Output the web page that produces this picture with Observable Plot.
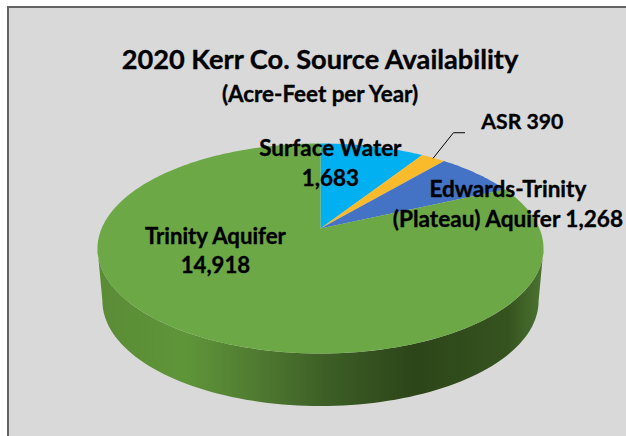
<!DOCTYPE html>
<html>
<head>
<meta charset="utf-8">
<script src="https://cdn.jsdelivr.net/npm/d3@7"></script>
<script src="https://cdn.jsdelivr.net/npm/@observablehq/plot@0.6"></script>
<style>
  html, body { margin: 0; padding: 0; background: #fff; width: 626px; height: 436px; overflow: hidden; }
  #panel { position: absolute; left: 7px; top: 6px; right: 0; bottom: 0; background: #d9d9d9;
           border-left: 2px solid #636363; border-top: 2px solid #636363; }
  #chart { position: absolute; left: 0; top: 0; }
  .t { position: absolute; left: 0; width: 640px; text-align: center; color: #000; font-family: Lato, sans-serif; font-weight: 700; white-space: nowrap; -webkit-text-stroke: 0.35px #000; }
  #title { top: 41px; font-size: 27.2px; line-height: 36px; }
  #subtitle { top: 81px; font-size: 22.4px; line-height: 26px; }
</style>
</head>
<body>
<div id="panel"></div>
<svg width="0" height="0" style="position:absolute">
  <defs>
    <linearGradient id="side" x1="0" x2="1" y1="0" y2="0">
      <stop offset="0" stop-color="#5a8c36"/>
      <stop offset="0.2" stop-color="#5f9539"/>
      <stop offset="0.37" stop-color="#4e7830"/>
      <stop offset="0.52" stop-color="#3c5d25"/>
      <stop offset="0.71" stop-color="#2c4519"/>
      <stop offset="0.92" stop-color="#35531f"/>
      <stop offset="1" stop-color="#4c7431"/>
    </linearGradient>
  </defs>
</svg>
<div id="chart"></div>
<div class="t" id="title">2020 Kerr Co. Source Availability</div>
<div class="t" id="subtitle">(Acre-Feet per Year)</div>
<script>
const sources = ["Surface Water", "ASR", "Edwards-Trinity (Plateau) Aquifer", "Trinity Aquifer"];
const values = [1683, 390, 1268, 14918];
const colors = ["#00b0f0", "#f9bb2b", "#4472c4", "#6ca845"];
const labels = ["Surface Water\n1,683", "ASR 390", "Edwards-Trinity\n(Plateau) Aquifer 1,268", "Trinity Aquifer\n14,918"];

// 3D tilt of the pie, in unit-circle coordinates of the scales
const apexY = 0.19, sideDrop = 0.5, bottomScale = 0.978, skew = 11 * Math.PI / 180;
const rim = (a) => {
  const p = a - skew * Math.sin(a);
  return [Math.sin(p), Math.cos(p)];
};

const arcs = d3.pie().sort(null).value((d, i) => values[i])(sources);
const wedges = arcs.flatMap((arc) => {
  const n = Math.ceil((arc.endAngle - arc.startAngle) * 60);
  const pts = [{slice: arc.data, x: 0, y: apexY}];
  for (let i = 0; i <= n; ++i) {
    const [x, y] = rim(arc.startAngle + (arc.endAngle - arc.startAngle) * i / n);
    pts.push({slice: arc.data, x, y});
  }
  pts.push({slice: arc.data, x: 0, y: apexY});
  return pts;
});

// Visible side wall: lower half of top rim, then lower half of bottom rim
const lower = d3.range(-90, 91, 2).map((d) => d * Math.PI / 180);
const sideWall = [
  ...lower.map((t) => ({x: Math.sin(t), y: -Math.cos(t)})),
  ...lower.slice().reverse().map((t) => ({x: Math.sin(t) * bottomScale, y: -Math.cos(t) - sideDrop}))
];

const mids = arcs.map((a) => rim((a.startAngle + a.endAngle) / 2));
const labelOffsets = [[-42, 15], [89, -37.5], [31, 28.5], [35, -81]];
const labelSizes = [22.4, 21.2, 22.6, 22.2];
const asr = mids[1];

const chart = Plot.plot({
  width: 626,
  height: 436,
  margin: 0,
  axis: null,
  style: {background: "transparent", overflow: "visible"},
  x: {domain: [-1, 1], range: [97, 543]},
  y: {domain: [-1, 1], range: [353, 143]},
  color: {domain: sources, range: colors},
  marks: [
    Plot.line(sideWall, {x: "x", y: "y", fill: "url(#side)", stroke: "none"}),
    Plot.line(wedges, {x: "x", y: "y", z: "slice", fill: "slice", stroke: "none"}),
    ...labels.map((text, i) => Plot.text([text], {
      x: () => mids[i][0], y: () => mids[i][1], text: (d) => d,
      dx: labelOffsets[i][0], dy: labelOffsets[i][1],
      fontFamily: "Lato, sans-serif", fontWeight: 700, fontSize: labelSizes[i], lineHeight: 1.32,
      fill: "#000", stroke: "#000", strokeWidth: 0.35
    })),
    Plot.line([{x: asr[0], y: asr[1]}, {x: asr[0] + 0.09, y: asr[1] + 0.24}, {x: asr[0] + 0.14, y: asr[1] + 0.24}], {x: "x", y: "y", stroke: "#000", strokeWidth: 1})
  ]
});
document.getElementById("chart").append(chart);
</script>
</body>
</html>
